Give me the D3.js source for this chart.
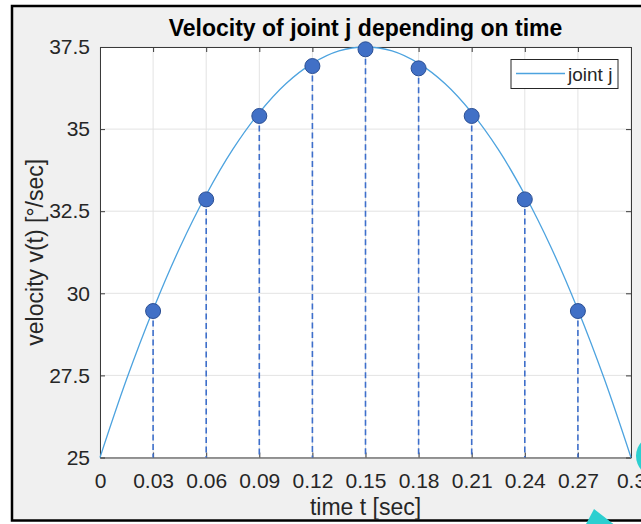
<!DOCTYPE html>
<html>
<head>
<meta charset="utf-8">
<script src="https://cdn.jsdelivr.net/npm/d3@7"></script>
<style>
  html, body { margin: 0; padding: 0; background: #ffffff; overflow: hidden; }
  svg { display: block; }
  text { font-family: "Liberation Sans", Arial, Helvetica, sans-serif; }
</style>
</head>
<body>
<svg id="chart" width="641" height="524"></svg>
<script>
// ---- data ----
const xTicks = [0, 0.03, 0.06, 0.09, 0.12, 0.15, 0.18, 0.21, 0.24, 0.27, 0.3];
const xTickLabels = ["0", "0.03", "0.06", "0.09", "0.12", "0.15", "0.18", "0.21", "0.24", "0.27", "0.3"];
const yTicks = [25, 27.5, 30, 32.5, 35, 37.5];
const yTickLabels = ["25", "27.5", "30", "32.5", "35", "37.5"];

// sampled velocity points (markers)
const sampleTimes = [0.03, 0.06, 0.09, 0.12, 0.15, 0.18, 0.21, 0.24, 0.27];
const sampleVelocity = [29.46, 32.86, 35.40, 36.92, 37.43, 36.85, 35.40, 32.86, 29.46];

// continuous velocity curve
const curveTimes = [0, 0.015, 0.03, 0.045, 0.06, 0.075, 0.09, 0.105, 0.12, 0.135, 0.15,
                    0.165, 0.18, 0.195, 0.21, 0.225, 0.24, 0.255, 0.27, 0.285, 0.3];
const curveVelocity = [25, 27.38, 29.5, 31.38, 33, 34.38, 35.5, 36.38, 37, 37.38, 37.5,
                       37.38, 37, 36.38, 35.5, 34.38, 33, 31.38, 29.5, 27.38, 25];

const titleText = "Velocity of joint j depending on time";
const xLabelText = "time t [sec]";
const yLabelText = "velocity v(t) [°/sec]";
const legendLabel = "joint j";

// ---- layout ----
const W = 641, H = 524;
const plot = { left: 100, right: 631, top: 47, bottom: 457.5 };
const svg = d3.select("#chart");

const x = d3.scaleLinear().domain([0, 0.3]).range([plot.left, plot.right]);
const y = d3.scaleLinear().domain([25, 37.5]).range([plot.bottom, plot.top]);

// figure frame
svg.append("rect").attr("x", 12).attr("y", 6).attr("width", 700).attr("height", 514.5)
  .attr("fill", "#f0f0f0").attr("stroke", "#000").attr("stroke-width", 2.5);

// plot background
svg.append("rect").attr("x", plot.left).attr("y", plot.top)
  .attr("width", plot.right - plot.left).attr("height", plot.bottom - plot.top)
  .attr("fill", "#ffffff");

// grid
const grid = svg.append("g").attr("stroke", "#e3e3e3").attr("stroke-width", 1);
grid.selectAll("line.gx").data(xTicks).join("line")
  .attr("x1", d => x(d)).attr("x2", d => x(d))
  .attr("y1", plot.top).attr("y2", plot.bottom);
grid.selectAll("line.gy").data(yTicks).join("line")
  .attr("x1", plot.left).attr("x2", plot.right)
  .attr("y1", d => y(d)).attr("y2", d => y(d));

// axes
const axisColor = "#3a3a3a";
const xAxis = d3.axisBottom(x).tickValues(xTicks)
  .tickFormat((d, i) => xTickLabels[i]).tickSizeInner(-5).tickSizeOuter(0).tickPadding(15.5);
const gx = svg.append("g").attr("transform", `translate(0,${plot.bottom})`).call(xAxis);
const yAxis = d3.axisLeft(y).tickValues(yTicks)
  .tickFormat((d, i) => yTickLabels[i]).tickSizeInner(-5).tickSizeOuter(0).tickPadding(10);
const gy = svg.append("g").attr("transform", `translate(${plot.left},0)`).call(yAxis);
const gxTop = svg.append("g").attr("transform", `translate(0,${plot.top})`)
  .call(d3.axisTop(x).tickValues(xTicks).tickFormat("").tickSizeInner(-5).tickSizeOuter(0));
const gyRight = svg.append("g").attr("transform", `translate(${plot.right},0)`)
  .call(d3.axisRight(y).tickValues(yTicks).tickFormat("").tickSizeInner(-5).tickSizeOuter(0));

[gx, gy, gxTop, gyRight].forEach(g => {
  g.select(".domain").attr("stroke", axisColor).attr("stroke-width", 1);
  g.selectAll(".tick line").attr("stroke", axisColor).attr("stroke-width", 1);
  g.selectAll(".tick text").attr("fill", "#262626").attr("font-size", 21)
    .attr("font-family", "'Liberation Sans', Arial, Helvetica, sans-serif");
});

// curve
const line = d3.line()
  .x((d, i) => x(curveTimes[i]))
  .y(d => y(d))
  .curve(d3.curveCatmullRom);
svg.append("path").datum(curveVelocity)
  .attr("d", line)
  .attr("fill", "none").attr("stroke", "#4da3df").attr("stroke-width", 1.3);

// dashed drop lines
svg.append("g").selectAll("line").data(sampleVelocity).join("line")
  .attr("x1", (d, i) => x(sampleTimes[i])).attr("x2", (d, i) => x(sampleTimes[i]))
  .attr("y1", d => y(d)).attr("y2", y(25))
  .attr("stroke", "#3e6fcb").attr("stroke-width", 1.6)
  .attr("stroke-dasharray", "6,3.5");

// markers
svg.append("g").selectAll("circle").data(sampleVelocity).join("circle")
  .attr("cx", (d, i) => x(sampleTimes[i])).attr("cy", d => y(d))
  .attr("r", 7.5)
  .attr("fill", "#4170c6").attr("stroke", "#2b4f94").attr("stroke-width", 1);

// title
svg.append("text").attr("x", (plot.left + plot.right) / 2).attr("y", 36)
  .attr("text-anchor", "middle").attr("font-size", 23).attr("font-weight", "bold")
  .attr("fill", "#000").text(titleText);

// axis labels
svg.append("text").attr("x", (plot.left + plot.right) / 2).attr("y", 515)
  .attr("text-anchor", "middle").attr("font-size", 23).attr("fill", "#262626")
  .text(xLabelText);
svg.append("text")
  .attr("transform", `translate(42.5,${(plot.top + plot.bottom) / 2}) rotate(-90)`)
  .attr("text-anchor", "middle").attr("font-size", 23).attr("fill", "#262626")
  .text(yLabelText);

// legend
const lg = svg.append("g");
lg.append("rect").attr("x", 511).attr("y", 59.5).attr("width", 107).attr("height", 29)
  .attr("fill", "#ffffff").attr("stroke", "#262626").attr("stroke-width", 1);
lg.append("line").attr("x1", 516).attr("x2", 565).attr("y1", 73.5).attr("y2", 73.5)
  .attr("stroke", "#4da3df").attr("stroke-width", 1.3);
lg.append("text").attr("x", 568).attr("y", 81).attr("font-size", 19).attr("fill", "#262626")
  .text(legendLabel);

// cyan overlay shapes seen in the screenshot
svg.append("circle").attr("cx", 657).attr("cy", 456).attr("r", 21).attr("fill", "#2ccfd0");
svg.append("path").attr("d", "M594,509 L585,526 L616,526 Z").attr("fill", "#2ccfd0");
</script>
</body>
</html>
